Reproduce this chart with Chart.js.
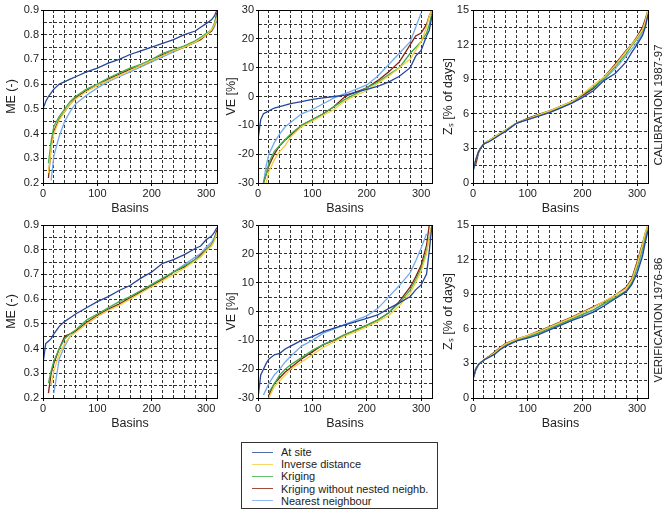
<!DOCTYPE html>
<html>
<head>
<meta charset="utf-8">
<script src="https://cdn.jsdelivr.net/npm/chart.js@4.4.0/dist/chart.umd.min.js"></script>
<style>
  body { margin: 0; background: #fff; font-family: "Liberation Sans", Arial, sans-serif; }
  #wrap { position: relative; width: 671px; height: 515px; overflow: hidden; }
  canvas { position: absolute; }
  .side { position: absolute; font-size: 11.5px; color: #222; white-space: nowrap;
          transform: translate(-50%, -50%) rotate(-90deg); }
  #legend { position: absolute; left: 241px; top: 442px; width: 197px; height: 67px;
            border: 1px solid #333; box-sizing: border-box; padding-top: 3px; }
  .item { height: 12.2px; line-height: 12.2px; font-size: 11px; color: #222; display: flex; align-items: center; }
  .swatch { width: 21px; height: 0; border-top: 1.2px solid; margin: 0 8px 0 10px; opacity: 0.8; }
</style>
</head>
<body>
<div id="wrap">
  <canvas id="c0"></canvas><canvas id="c1"></canvas><canvas id="c2"></canvas>
  <canvas id="c3"></canvas><canvas id="c4"></canvas><canvas id="c5"></canvas>
  <div class="side" style="left:658px; top:105px">CALIBRATION 1987-97</div>
  <div class="side" style="left:658px; top:320px">VERIFICATION 1976-86</div>
  <div id="legend"></div>
</div>
<script>
const basins = [0, 5, 10, 15, 20, 30, 40, 50, 60, 80, 100, 120, 140, 160, 180, 200, 220, 240, 260, 280, 290, 300, 310, 315, 320];

const seriesNames = ['At site', 'Inverse distance', 'Kriging', 'Kriging without nested neighb.', 'Nearest neighbour'];
const seriesColors = ['#24459a', '#f3cd3c', '#3fae4b', '#86200f', '#74aaee'];

// ME, calibration
const meCalAtSite = [0.50, 0.53, 0.55, 0.565, 0.58, 0.60, 0.61, 0.62, 0.63, 0.65, 0.665, 0.685, 0.70, 0.72, 0.735, 0.75, 0.765, 0.78, 0.80, 0.815, 0.83, 0.845, 0.86, 0.875, 0.90];
const meCalInverse = [null, null, 0.24, 0.34, 0.40, 0.455, 0.49, 0.52, 0.54, 0.57, 0.595, 0.615, 0.635, 0.655, 0.675, 0.695, 0.715, 0.735, 0.75, 0.77, 0.785, 0.80, 0.82, 0.84, 0.87];
const meCalKriging = [null, null, 0.28, 0.37, 0.43, 0.47, 0.50, 0.53, 0.55, 0.58, 0.60, 0.625, 0.645, 0.665, 0.68, 0.70, 0.725, 0.74, 0.755, 0.775, 0.79, 0.805, 0.82, 0.845, 0.88];
const meCalKrigingNN = [null, null, 0.22, 0.35, 0.41, 0.46, 0.49, 0.52, 0.545, 0.575, 0.595, 0.62, 0.64, 0.66, 0.675, 0.695, 0.72, 0.735, 0.75, 0.77, 0.78, 0.80, 0.815, 0.84, 0.89];
const meCalNearest = [null, null, null, 0.21, 0.31, 0.39, 0.45, 0.49, 0.52, 0.555, 0.585, 0.61, 0.63, 0.65, 0.67, 0.69, 0.71, 0.73, 0.75, 0.77, 0.785, 0.80, 0.815, 0.83, 0.86];

// VE, calibration
const veCalAtSite = [-15, -8, -6, -5.5, -5, -4, -3.5, -3, -2.5, -1.8, -1, -0.5, 0, 0.5, 1.5, 2.5, 3.5, 5, 7, 10, 14, 16, 21, 23, 28];
const veCalInverse = [null, null, null, -30, -26, -22, -19, -17, -14, -10.5, -8.5, -6.5, -4.5, -1.5, 0.5, 2, 4.5, 7, 10, 13, 16, 19, 24, 28, 30];
const veCalKriging = [null, null, -30, -27, -23, -19, -17, -15, -13, -10, -8, -6, -3.5, -1, 1, 3, 5, 7.5, 10, 15, 17, 19, 22, 25, 29];
const veCalKrigingNN = [null, null, -30, -27, -24, -20, -17, -15, -13.5, -10, -8, -6, -3.5, 0, 1.5, 3, 5.5, 8.5, 12, 18, 21, 22, 25, 28, 30];
const veCalNearest = [null, null, -30, -24, -20, -16, -13, -10.5, -9, -6, -4.5, -2.5, -0.5, 1, 2.5, 4, 7, 11, 15, 19, 24, 29, null, null, null];

// Zs, calibration
const zsCalAtSite = [1.0, 2.0, 2.7, 3.1, 3.4, 3.6, 3.9, 4.2, 4.5, 5.2, 5.5, 5.8, 6.1, 6.5, 6.9, 7.4, 8.0, 8.9, 9.5, 10.5, 11.3, 12.0, 12.8, 13.5, 14.6];
const zsCalInverse = [1.1, 2.0, 2.7, 3.1, 3.4, 3.7, 4.0, 4.3, 4.6, 5.2, 5.55, 5.9, 6.25, 6.65, 7.05, 7.7, 8.5, 9.2, 10.2, 11.4, 12.0, 12.6, 13.3, 14.0, 15.0];
const zsCalKriging = [1.0, 2.0, 2.7, 3.1, 3.4, 3.7, 4.0, 4.3, 4.6, 5.2, 5.55, 5.9, 6.2, 6.6, 7.0, 7.7, 8.3, 9.1, 10.1, 11.2, 11.9, 12.5, 13.2, 13.9, 14.9];
const zsCalKrigingNN = [1.3, 1.6, 2.6, 3.1, 3.4, 3.7, 4.0, 4.3, 4.6, 5.2, 5.6, 5.95, 6.25, 6.65, 7.05, 7.6, 8.2, 9.2, 10.3, 11.5, 12.0, 12.7, 13.5, 14.2, 15.0];
const zsCalNearest = [1.0, 2.0, 2.7, 3.1, 3.4, 3.6, 3.9, 4.2, 4.5, 5.2, 5.5, 5.85, 6.15, 6.55, 6.95, 7.5, 8.2, 9.0, 9.9, 11.0, 11.6, 12.2, 13.0, 13.6, 14.8];

// ME, verification
const meVerAtSite = [0.34, 0.42, 0.43, 0.44, 0.46, 0.49, 0.51, 0.525, 0.54, 0.565, 0.59, 0.61, 0.635, 0.655, 0.685, 0.71, 0.745, 0.76, 0.78, 0.805, 0.815, 0.84, 0.855, 0.87, 0.89];
const meVerInverse = [null, null, null, 0.25, 0.31, 0.38, 0.42, 0.45, 0.465, 0.50, 0.53, 0.555, 0.575, 0.60, 0.625, 0.65, 0.675, 0.70, 0.725, 0.755, 0.77, 0.795, 0.815, 0.835, 0.87];
const meVerKriging = [null, null, 0.26, 0.31, 0.35, 0.40, 0.44, 0.46, 0.475, 0.515, 0.54, 0.565, 0.59, 0.61, 0.635, 0.66, 0.685, 0.71, 0.735, 0.76, 0.775, 0.80, 0.82, 0.84, 0.87];
const meVerKrigingNN = [null, null, 0.22, 0.30, 0.34, 0.40, 0.45, 0.46, 0.47, 0.505, 0.535, 0.56, 0.58, 0.605, 0.63, 0.655, 0.68, 0.71, 0.73, 0.76, 0.78, 0.80, 0.82, 0.84, 0.88];
const meVerNearest = [null, null, null, null, 0.22, 0.36, 0.41, 0.45, 0.47, 0.50, 0.53, 0.555, 0.58, 0.60, 0.63, 0.655, 0.68, 0.71, 0.74, 0.77, 0.785, 0.81, 0.83, 0.85, 0.875];

// VE, verification
const veVerAtSite = [-30, -22, -20, -18, -16.5, -15, -14.5, -13, -12, -10, -8.7, -7, -5.8, -4.6, -3.5, -2.4, -1.2, 1, 3, 5.2, 7.5, 9.2, 13, 21, 30];
const veVerInverse = [null, null, null, null, -30, -26, -24, -22, -20, -17.5, -15, -12.5, -10.5, -8.5, -7, -5.3, -3.5, -1.5, 2, 6.5, 10, 14, 20, 26, 30];
const veVerKriging = [null, null, null, null, -28, -25, -22, -20, -18.5, -16, -13.5, -11.5, -9.8, -8, -6.3, -4.7, -3, -0.5, 3, 7.5, 11, 15, 21, 26, 30];
const veVerKrigingNN = [null, null, null, null, -29, -25, -23, -21, -19.5, -16.5, -14, -11.5, -10, -8, -6.5, -4.8, -3, -0.5, 3.5, 8.5, 12, 16, 23, 30, null];
const veVerNearest = [null, null, -29, -27, -25, -22, -20, -17.5, -15.5, -12, -10, -7.5, -6, -4.5, -3, -1.5, 1, 5, 9, 13.5, 17.5, 22, 27, null, null];

// Zs, verification
const zsVerAtSite = [1.7, 2.5, 2.9, 3.1, 3.3, 3.55, 3.8, 4.2, 4.5, 4.95, 5.2, 5.5, 5.9, 6.3, 6.7, 7.05, 7.45, 8.0, 8.6, 9.2, 9.8, 10.8, 12.3, 13.5, 14.5];
const zsVerInverse = [1.7, 2.5, 2.9, 3.1, 3.3, 3.6, 3.95, 4.35, 4.7, 5.1, 5.4, 5.75, 6.15, 6.55, 6.95, 7.4, 7.85, 8.4, 8.9, 9.5, 10.2, 11.6, 13.3, 14.3, 15.0];
const zsVerKriging = [1.7, 2.5, 2.9, 3.1, 3.3, 3.6, 3.9, 4.3, 4.6, 5.05, 5.3, 5.65, 6.05, 6.45, 6.85, 7.25, 7.65, 8.2, 8.7, 9.3, 10.0, 11.3, 13.0, 14.0, 15.0];
const zsVerKrigingNN = [1.6, 2.4, 2.9, 3.1, 3.3, 3.65, 4.0, 4.4, 4.75, 5.1, 5.4, 5.8, 6.2, 6.6, 7.0, 7.45, 7.9, 8.35, 8.9, 9.6, 10.3, 11.8, 13.4, 14.3, 15.0];
const zsVerNearest = [1.9, 2.6, 2.9, 3.1, 3.3, 3.6, 3.9, 4.3, 4.6, 5.0, 5.3, 5.6, 6.0, 6.4, 6.8, 7.2, 7.6, 8.15, 8.65, 9.25, 9.9, 11.0, 12.6, 13.8, 14.8];

const FONT = '"Liberation Sans", Arial, sans-serif';

// panel geometry: canvas box, fixed y-axis width, right padding
const cols = [
  { left: 0, width: 222, axisW: 43, padR: 5, titlePad: 4.5 },
  { left: 222, width: 218, axisW: 36, padR: 8, titlePad: 2.5 },
  { left: 440, width: 231, axisW: 33, padR: 23, titlePad: 1.5 }
];
const rows = [
  { top: 0, height: 220, padT: 10 },
  { top: 215, height: 220, padT: 10 }
];

const yAxes = [
  { title: 'ME (-)', min: 0.2, max: 0.9, step: 0.05,
    label: v => (Math.round(v * 100) % 10 === 0 ? v.toFixed(1) : '') },
  { title: 'VE [%]', min: -30, max: 30, step: 5,
    label: v => (Math.round(v) % 10 === 0 ? String(Math.round(v)) : '') },
  { title: 'Zₛ [% of days]', min: 0, max: 15, step: 1.5,
    label: v => (Math.abs(v / 3 - Math.round(v / 3)) < 1e-6 ? String(Math.round(v)) : '') }
];

const framePlugin = {
  id: 'frame',
  afterDraw(chart) {
    const { ctx, chartArea: a } = chart;
    ctx.save();
    ctx.strokeStyle = '#000';
    ctx.lineWidth = 1;
    ctx.setLineDash([]);
    ctx.strokeRect(Math.round(a.left) + 0.5, Math.round(a.top) + 0.5, Math.round(a.width), Math.round(a.height));
    ctx.restore();
  }
};

function makePanel(id, col, row, axis, series) {
  const c = cols[col], r = rows[row];
  const cv = document.getElementById(id);
  cv.width = c.width; cv.height = r.height;
  cv.style.left = c.left + 'px'; cv.style.top = r.top + 'px';

  const datasets = series.map((vals, i) => ({
    label: seriesNames[i],
    data: basins.map((b, k) => ({ x: b, y: vals[k] })),
    borderColor: seriesColors[i],
    borderWidth: 1.3,
    pointRadius: 0,
    tension: 0,
    fill: false
  }));

  new Chart(cv, {
    type: 'line',
    data: { datasets },
    plugins: [framePlugin],
    options: {
      responsive: false,
      animation: false,
      layout: { padding: { top: r.padT, right: c.padR, left: 0, bottom: 0 } },
      plugins: { legend: { display: false }, tooltip: { enabled: false } },
      scales: {
        x: {
          type: 'linear', min: 0, max: 320,
          afterFit: s => { s.height = 37; },
          ticks: {
            stepSize: 20, autoSkip: false, maxRotation: 0, padding: 1,
            color: '#222', font: { family: FONT, size: 11 },
            callback: v => (v % 100 === 0 ? String(v) : '')
          },
          grid: {
            color: '#333', lineWidth: 1,
            tickLength: 3, tickBorderDash: [],
            tickColor: ctx => (ctx.tick && ctx.tick.value % 100 === 0 ? '#000' : 'rgba(0,0,0,0)')
          },
          border: { display: true, color: '#000', width: 1, dash: [3, 2] },
          title: { display: true, text: 'Basins', color: '#222', font: { family: FONT, size: 12.5 },
                   padding: { top: 0, bottom: 3.5 } }
        },
        y: {
          type: 'linear', min: axis.min, max: axis.max,
          afterFit: s => { s.width = c.axisW; },
          ticks: {
            stepSize: axis.step, autoSkip: false, padding: 2,
            color: '#222', font: { family: FONT, size: 11 },
            callback: axis.label
          },
          grid: {
            color: '#333', lineWidth: 1,
            tickLength: 2, tickBorderDash: [],
            tickColor: ctx => (ctx.tick && axis.label(ctx.tick.value) !== '' ? '#000' : 'rgba(0,0,0,0)')
          },
          border: { display: true, color: '#000', width: 1, dash: [3, 2] },
          title: { display: true, text: axis.title, color: '#222', font: { family: FONT, size: 12.5 },
                   padding: { top: c.titlePad, bottom: 0 } }
        }
      }
    }
  });
}

makePanel('c0', 0, 0, yAxes[0], [meCalAtSite, meCalInverse, meCalKriging, meCalKrigingNN, meCalNearest]);
makePanel('c1', 1, 0, yAxes[1], [veCalAtSite, veCalInverse, veCalKriging, veCalKrigingNN, veCalNearest]);
makePanel('c2', 2, 0, yAxes[2], [zsCalAtSite, zsCalInverse, zsCalKriging, zsCalKrigingNN, zsCalNearest]);
makePanel('c3', 0, 1, yAxes[0], [meVerAtSite, meVerInverse, meVerKriging, meVerKrigingNN, meVerNearest]);
makePanel('c4', 1, 1, yAxes[1], [veVerAtSite, veVerInverse, veVerKriging, veVerKrigingNN, veVerNearest]);
makePanel('c5', 2, 1, yAxes[2], [zsVerAtSite, zsVerInverse, zsVerKriging, zsVerKrigingNN, zsVerNearest]);

// legend box under the panels
const legend = document.getElementById('legend');
seriesNames.forEach((name, i) => {
  const row = document.createElement('div');
  row.className = 'item';
  const sw = document.createElement('span');
  sw.className = 'swatch';
  sw.style.borderColor = seriesColors[i];
  const txt = document.createElement('span');
  txt.textContent = name;
  row.appendChild(sw);
  row.appendChild(txt);
  legend.appendChild(row);
});
</script>
</body>
</html>
